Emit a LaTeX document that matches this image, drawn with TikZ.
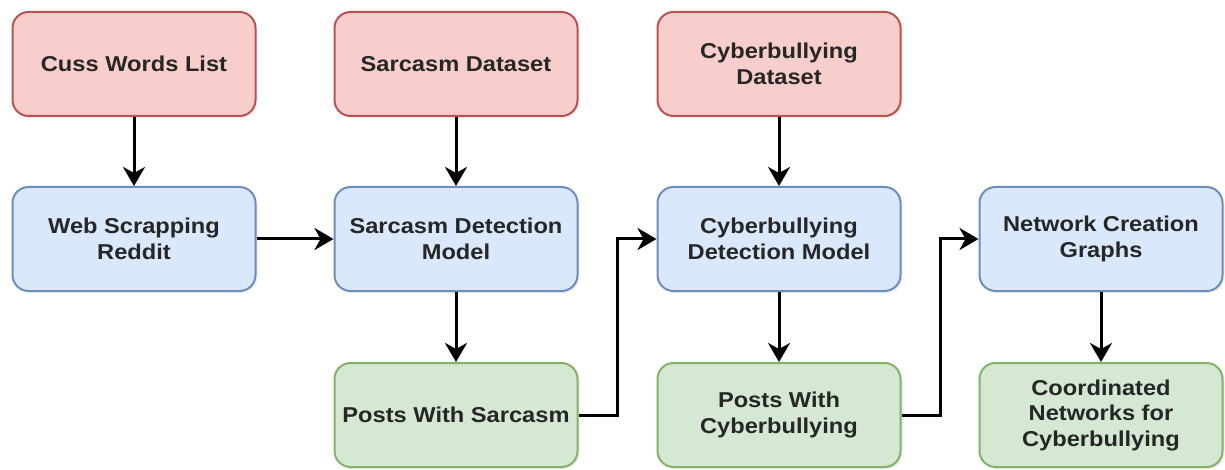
\documentclass[tikz,border=0pt]{standalone}
\usepackage{fontspec}
\setmainfont{Liberation Sans}[FakeStretch=1.1]
\usetikzlibrary{arrows.meta,shadows}
\definecolor{rfill}{HTML}{F8CECC}\definecolor{rdraw}{HTML}{B85450}
\definecolor{bfill}{HTML}{DAE8FC}\definecolor{bdraw}{HTML}{6C8EBF}
\definecolor{gfill}{HTML}{D5E8D4}\definecolor{gdraw}{HTML}{82B366}
\definecolor{txt}{HTML}{262626}
\begin{document}
\begin{tikzpicture}[x=1pt,y=-1pt,
  box/.style={rounded corners=16pt,line width=2pt,minimum width=243pt,minimum height=104pt,
    align=center,font=\bfseries\fontsize{21.5}{25.5}\selectfont,text=txt,
    drop shadow={shadow xshift=2pt,shadow yshift=-2pt,opacity=0.15}},
  redbox/.style={box,fill=rfill,draw=rdraw},
  bluebox/.style={box,fill=bfill,draw=bdraw},
  greenbox/.style={box,fill=gfill,draw=gdraw},
  arr/.style={line width=3pt,-{Stealth[length=19pt,width=22pt,inset=6pt]}}]
\useasboundingbox (0,0) rectangle (1225,470);
\node[redbox] (cuss) at (134,64) {Cuss Words List};
\node[redbox] (sard) at (456,64) {Sarcasm Dataset};
\node[redbox] (cybd) at (779,64) {Cyberbullying\\Dataset};
\node[bluebox] (web) at (134,239) {Web Scrapping\\Reddit};
\node[bluebox] (sarm) at (456,239) {Sarcasm Detection\\Model};
\node[bluebox] (cybm) at (779,239) {Cyberbullying\\Detection Model};
\node[bluebox] (net) at (1101,239) {Network Creation\\Graphs};
\node[greenbox] (psar) at (456,415) {Posts With Sarcasm};
\node[greenbox] (pcyb) at (779,415) {Posts With\\Cyberbullying};
\node[greenbox] (coord) at (1101,415) {Coordinated\\Networks for\\Cyberbullying};
\draw[arr] (cuss) -- (web);
\draw[arr] (sard) -- (sarm);
\draw[arr] (cybd) -- (cybm);
\draw[arr] (web) -- (sarm);
\draw[arr] (sarm) -- (psar);
\draw[arr] (cybm) -- (pcyb);
\draw[arr] (net) -- (coord);
\draw[arr,rounded corners=0pt] (psar.east) -- ++(39,0) |- (cybm.west);
\draw[arr,rounded corners=0pt] (pcyb.east) -- ++(39,0) |- (net.west);
\end{tikzpicture}
\end{document}
